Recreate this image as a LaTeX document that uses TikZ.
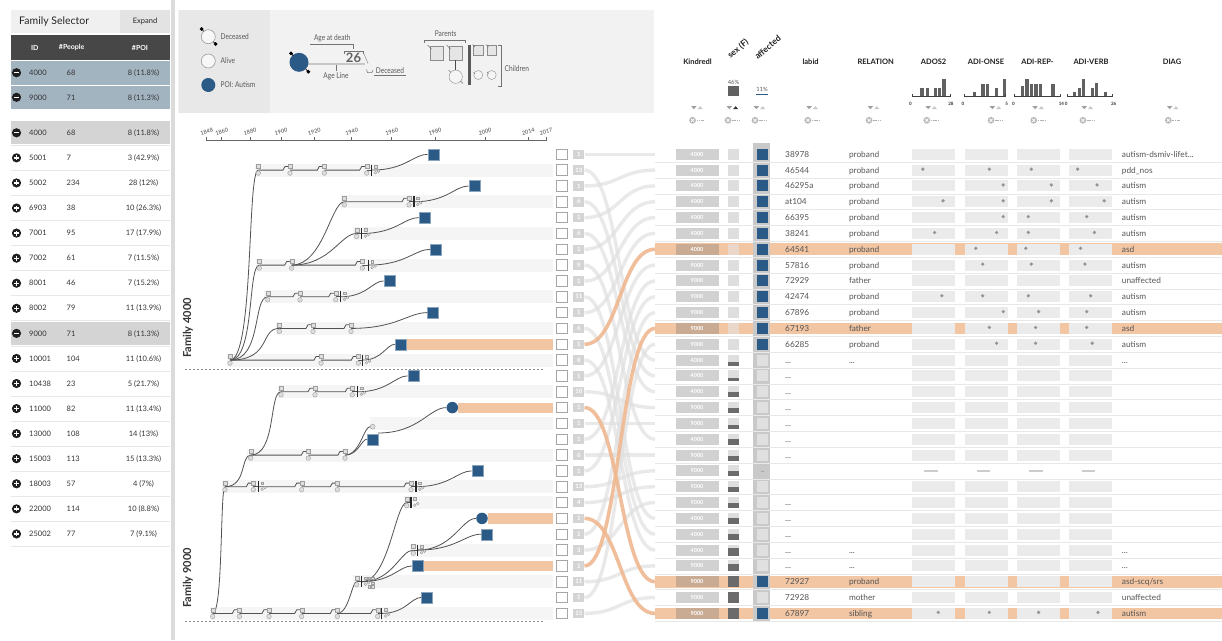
\documentclass[tikz,border=0pt]{standalone}
\usepackage{fontspec}
\usepackage{graphicx}
\setmainfont{Lato}
\usetikzlibrary{calc}
\definecolor{poiblue}{HTML}{2B5A87}
\definecolor{orng}{HTML}{F2C5A3}
\definecolor{oline}{HTML}{EFB890}
\definecolor{okin}{HTML}{C9AA93}
\definecolor{osex}{HTML}{EAD7C9}
\definecolor{selrow}{HTML}{A3B4C1}
\definecolor{txt}{HTML}{555555}
\newcommand\fsz[1]{\fontsize{#1}{#1}\selectfont}
\newcommand\dd{...}
\newcommand\cnd[1]{\scalebox{0.82}[1]{#1}}
\newcommand\lnk[2]{\draw[tl] (#1) -- ($(#2)+(-7,0)$) -- ($(#2)+(-5,-3.6)$) -- ($(#2)+(-1.5,-3.6)$);}
\newcommand\cv[2]{\draw[tl] (#1) .. controls ($(#1)!0.6!(#2|-#1)$) and ($(#1|-#2)!0.75!(#2)$) .. (#2);}
\newcommand\rcv[2]{\draw[tl] (#1) .. controls ($(#1)!0.85!(#2|-#1)$) and ($(#1|-#2)!0.6!(#2)$) .. (#2);}
\newcommand\tck[1]{\draw[tkk] ($(#1)+(0,-5.5)$) -- ($(#1)+(0,5.5)$);}
\newcommand\dmd[2]{\fill[black] (#1,#2-2) -- (#1+2,#2) -- (#1,#2+2) -- (#1-2,#2) -- cycle;}
\newcommand\hb[3]{\fill[black!62] (#1,96.5) rectangle (#2,#3);}
\newcommand\srt[3]{%
  \fill[black!38] (#2-5.8,106.2) -- (#2-0.5,106.2) -- (#2-3.15,109.2) -- cycle;
  \fill[#3] (#2+0.5,109.2) -- (#2+5.8,109.2) -- (#2+3.15,106.2) -- cycle;
  \node[circle, fill=black!27, minimum size=6.8pt, inner sep=0pt] (#1) at (#2-4.5,120.3) {};
  \draw[white, line width=0.7pt] (#2-6,118.8) -- (#2-3,121.8) (#2-6,121.8) -- (#2-3,118.8);
  \draw[black!30, line width=0.8pt, dash pattern=on 1.6pt off 0.7pt] (#2-0.5,120.3) -- (#2+6.5,120.3);}

\begin{document}
\begin{tikzpicture}[x=1pt,y=-1pt,
  tl/.style={draw=black!68, line width=0.8pt},
  tkk/.style={draw=black!85, line width=1.1pt},
  pm/.style={draw=black!38, fill=black!13, minimum size=4pt, inner sep=0pt, line width=0.4pt},
  pf/.style={circle, draw=black!38, fill=black!13, minimum size=4.6pt, inner sep=0pt, line width=0.4pt},
  sm/.style={pm, minimum size=2.8pt},
  sf/.style={pf, minimum size=2.8pt},
  poisq/.style={fill=poiblue, draw=poiblue!55!white, minimum size=11pt, inner sep=0pt, line width=0.4pt},
  poici/.style={circle, fill=poiblue, minimum size=11.5pt, inner sep=0pt},
  gconn/.style={draw=black!12, line width=3.4pt, opacity=0.7},
  oconn/.style={draw=oline, line width=3.6pt, opacity=0.9},
  lgt/.style={font=\fsz{8}, text=black!65, inner sep=0pt},
  hdr/.style={font=\bfseries\fsz{7.5}, text=black!88},
  cell/.style={font=\fsz{8.3}, text=txt, inner sep=0pt, anchor=base west}
]
\useasboundingbox (0,0) rectangle (1222,640);
\fill[white] (0,0) rectangle (1222,640);

%% ================= Family selector =================
\fill[black!6] (11,10) rectangle (120,33);
\fill[black!11] (120,10) rectangle (170,33);
\node[anchor=west, font=\fsz{10.5}, text=black!85, inner sep=0pt] (fstitle) at (19,21.5) {Family Selector};
\node[font=\fsz{7.5}, text=black!85] (fsexp) at (145,21.5) {Expand};
\fill[black!72] (11,35) rectangle (170,60);
\node[font=\bfseries\fsz{7}, text=white] (hid) at (34.7,47.5) {ID};
\node[font=\bfseries\fsz{7}, text=white] (hpeo) at (71.7,47.5) {\#People};
\node[font=\bfseries\fsz{7}, text=white] (hpoi) at (140,47.5) {\#POI};
\foreach \yy/\id/\np/\poi in {72.7/4000/68/{8 (11.8\%)}, 97.3/9000/71/{8 (11.3\%)}}{
  \fill[selrow] (11,\yy-12) rectangle (170,\yy+12);
  \fill[black!88] (16.5,\yy) circle (4.6);
  \draw[white, line width=1.3pt] (14,\yy) -- (19,\yy);
  \node[anchor=base west, font=\fsz{7.5}, text=black!80, inner sep=0pt] (top\id) at (29,\yy+2.7) {\id};
  \node[anchor=base west, font=\fsz{7.5}, text=black!80, inner sep=0pt] (topn\id) at (66.5,\yy+2.7) {\np};
  \node[anchor=base, font=\fsz{7.5}, text=black!80, inner sep=0pt] (topp\id) at (143.5,\yy+2.7) {\poi};
}
\draw[white, line width=0.8pt] (11,85) -- (170,85);
\foreach \k/\id/\np/\poi/\sel in {
 0/4000/68/{8 (11.8\%)}/1, 1/5001/7/{3 (42.9\%)}/0, 2/5002/234/{28 (12\%)}/0,
 3/6903/38/{10 (26.3\%)}/0, 4/7001/95/{17 (17.9\%)}/0, 5/7002/61/{7 (11.5\%)}/0,
 6/8001/46/{7 (15.2\%)}/0, 7/8002/79/{11 (13.9\%)}/0, 8/9000/71/{8 (11.3\%)}/1,
 9/10001/104/{11 (10.6\%)}/0, 10/10438/23/{5 (21.7\%)}/0, 11/11000/82/{11 (13.4\%)}/0,
 12/13000/108/{14 (13\%)}/0, 13/15003/113/{15 (13.3\%)}/0, 14/18003/57/{4 (7\%)}/0,
 15/22000/114/{10 (8.8\%)}/0, 16/25002/77/{7 (9.1\%)}/0}{
  \pgfmathsetmacro\yy{132.8+25.07*\k}
  \ifnum\sel=1 \fill[black!17] (11,\yy-11.5) rectangle (170,\yy+11.5); \fi
  \draw[black!9, line width=0.6pt] (11,\yy+12.5) -- (170,\yy+12.5);
  \fill[black!88] (16.5,\yy) circle (4.6);
  \draw[white, line width=1.3pt] (14,\yy) -- (19,\yy);
  \ifnum\sel=0 \draw[white, line width=1.3pt] (16.5,\yy-2.5) -- (16.5,\yy+2.5); \fi
  \node[anchor=base west, font=\fsz{7.5}, text=black!80, inner sep=0pt] (lid\k) at (29,\yy+2.7) {\id};
  \node[anchor=base west, font=\fsz{7.5}, text=black!80, inner sep=0pt] (lnp\k) at (66.5,\yy+2.7) {\np};
  \node[anchor=base, font=\fsz{7.5}, text=black!80, inner sep=0pt] (lpo\k) at (143.5,\yy+2.7) {\poi};
}
\fill[black!14] (171,0) rectangle (174.5,640);

%% ================= Legend =================
\fill[black!5] (178,10) rectangle (654,113);
\fill[black!9] (179,10) rectangle (270,113);
\node[circle, draw=black!40, fill=black!3, minimum size=14pt, inner sep=0pt, line width=0.6pt] (lgdec) at (208.3,36.7) {};
\draw[black, line width=0.6pt] (201.7,29) -- (203.6,31.3) (215.7,44) -- (213.3,41.8);
\dmd{201.7}{29} \dmd{215.7}{44}
\node[lgt, anchor=west] (lgdect) at (220.5,36.7) {\cnd{Deceased}};
\node[circle, draw=black!40, fill=black!3, minimum size=14pt, inner sep=0pt, line width=0.6pt] (lgalv) at (208.3,61) {};
\node[lgt, anchor=west] (lgalvt) at (220.5,61) {\cnd{Alive}};
\node[circle, fill=poiblue, minimum size=14pt, inner sep=0pt] (lgpoi) at (208.3,85) {};
\node[lgt, anchor=west] (lgpoit) at (220.5,85) {\cnd{POI: Autism}};
% age line example
\draw[black!22, line width=2pt] (300,64) -- (365,64);
\node[circle, fill=poiblue, minimum size=19pt, inner sep=0pt] (lgbig) at (299,62.3) {};
\draw[black, line width=0.6pt] (291,53.3) -- (293.5,56) (308.3,71.7) -- (305.5,68.8);
\dmd{291}{53.3} \dmd{308.3}{71.7}
\node[lgt] (lgage) at (332.3,38.5) {\cnd{Age at death}};
\draw[black!55, line width=0.5pt] (310,44.3) -- (353.3,44.3) -- (353.3,48.5);
\draw[black!55, line width=0.5pt] (344.3,54) -- (344.3,51.7) -- (363.3,51.7) -- (363.3,54);
\node[font=\bfseries\fsz{13}, text=black!62, inner sep=0pt] (lg26) at (353.5,57.5) {26};
\draw[black!40, line width=0.6pt] (363.8,53.5) -- (368,63.5);
\draw[black!55, line width=0.5pt] (336,65) -- (336,71);
\node[lgt] (lgal) at (336,76.5) {\cnd{Age Line}};
\draw[black!55, line width=0.5pt] (366.5,69.5) -- (367.5,72.5) -- (372,72.5) -- (373,70);
\node[lgt] (lgdc2) at (390,71) {\cnd{Deceased}};
\draw[black!55, line width=0.5pt] (374,75.7) -- (405.7,75.7);
% parents / children
\node[lgt] (lgpar) at (445.7,33.8) {\cnd{Parents}};
\draw[black!55, line width=0.5pt] (424.3,42.5) -- (424.3,40) -- (465,40) -- (465,42.5);
\node[draw=black!45, fill=black!10, minimum size=13.3pt, inner sep=0pt] (lgp1) at (436.7,53.3) {};
\node[draw=black!45, fill=black!10, minimum size=13.3pt, inner sep=0pt] (lgp2) at (455.7,53.3) {};
\draw[black!55, line width=0.5pt] (427.5,45) -- (431.5,49) (446.5,45) -- (450.5,49);
\draw[black!70, line width=1.3pt] (lgp2.south) -- ++(0,10);
\node[circle, draw=black!45, fill=black!4, minimum size=13.3pt, inner sep=0pt] (lgc) at (455.7,76.7) {};
\draw[black!55, line width=0.5pt] (448.5,70) -- (451,72.5) (460.5,81) -- (463,83.5);
\fill[black!65] (467.7,45) rectangle (471,85);
\node[draw=black!45, fill=black!10, minimum size=9.5pt, inner sep=0pt] (lgk1) at (478.3,50.3) {};
\node[draw=black!45, fill=black!10, minimum size=9.5pt, inner sep=0pt] (lgk2) at (491.7,50.3) {};
\node[circle, draw=black!45, fill=black!4, minimum size=9pt, inner sep=0pt] (lgk3) at (478.3,75) {};
\node[circle, draw=black!45, fill=black!4, minimum size=9pt, inner sep=0pt] (lgk4) at (491.7,75) {};
\draw[black!55, line width=0.5pt] (472.5,44.5) -- (475,47) (486,44.5) -- (488.5,47) (473.5,72) -- (475,74) (487,72) -- (488.5,74);
\draw[black!55, line width=0.5pt] (498.3,45) -- (501.7,45) -- (501.7,86.7) -- (498.3,86.7);
\node[lgt, anchor=west] (lgch) at (504.5,68.3) {\cnd{Children}};

%% ================= Timeline axis =================
\draw[black!60, line width=0.6pt] (206.7,140.7) -- (546,140.7);
\foreach \yr/\xx in {1848/206.7, 1860/221.7, 1880/250, 1900/281, 1920/314.3, 1940/351.7, 1960/391.7, 1980/435, 2000/485, 2014/528.3, 2017/546}{
  \draw[black!60, line width=0.6pt] (\xx,140.7) -- (\xx,137);
  \node[font=\fsz{5.5}, text=black!75, inner sep=0pt] (yr\yr) at (\xx,131.5) {\rotatebox{15}{\yr}};
}

%% ================= Tree bands =================
\foreach \yy/\xs in {170.1/255, 201.8/341, 233.5/353, 265.1/256, 296.8/264, 328.4/276, 360.1/227,
  391.8/278, 423.4/370, 455.1/247, 486.7/222, 502.6/404, 550.1/410, 581.7/353, 613.4/210}{
  \fill[black!4] (\xs,\yy-6.5) rectangle (553,\yy+6.5);
}
\foreach \yy/\xs in {344.3/406, 407.6/458, 518.4/487.5, 565.9/423}{
  \fill[orng] (\xs,\yy-5) rectangle (553,\yy+5.5);
}
\draw[black!45, line width=0.7pt, dash pattern=on 2pt off 2pt] (185,369) -- (545,369);
\draw[black!45, line width=0.7pt, dash pattern=on 2pt off 2pt] (185,621) -- (545,621);
\node[font=\bfseries\fsz{11}, text=black!80] (fam4000) at (188,328) {\rotatebox{90}{Family 4000}};
\node[font=\bfseries\fsz{11}, text=black!80] (fam9000) at (188,578) {\rotatebox{90}{Family 9000}};

%% persons of interest
\node[poisq] (s0) at (433.3,154.3) {};
\node[poisq] (s2) at (474.3,186.0) {};
\node[poisq] (s4) at (424.3,217.6) {};
\node[poisq] (s6) at (436,249.3) {};
\node[poisq] (s8) at (389.3,280.9) {};
\node[poisq] (s10) at (433,312.6) {};
\node[poisq] (s12) at (400.5,344.3) {};
\node[poisq] (s14) at (413.3,375.9) {};
\node[poici] (s16) at (452.3,407.6) {};
\node[poisq] (s18) at (372.7,439.2) {};
\node[poisq] (s20) at (477.3,470.9) {};
\node[poici] (s23) at (482,518.4) {};
\node[poisq] (s24) at (486.7,534.2) {};
\node[poisq] (s26) at (417.7,565.9) {};
\node[poisq] (s28) at (426.7,597.5) {};

%% couple / tick coordinates
\coordinate (a0) at (230,360.1); \coordinate (a1) at (321,360.1); \coordinate (a2) at (358.3,360.1); \coordinate (ta) at (362.7,360.1);
\coordinate (b0) at (258.3,170.1); \coordinate (b1) at (290,170.1); \coordinate (b2) at (324.3,170.1); \coordinate (b3) at (366.7,170.1); \coordinate (tb) at (371.7,170.1);
\coordinate (c0) at (259.3,265.1); \coordinate (c1) at (291.7,265.1); \coordinate (c2) at (362.3,265.1); \coordinate (tc) at (368.3,265.1);
\coordinate (d0) at (267.7,296.8); \coordinate (d1) at (300,296.8); \coordinate (d2) at (335.7,296.8); \coordinate (td) at (340.7,296.8);
\coordinate (e0) at (279.3,328.4); \coordinate (e1) at (313,328.4); \coordinate (e2) at (351,328.4);
\coordinate (f0) at (344.3,201.8); \coordinate (f1) at (409,201.8); \coordinate (tf) at (414,201.8);
\coordinate (g0) at (356.7,233.5); \coordinate (tg) at (361.7,233.5);
\coordinate (h0) at (212.7,613.4); \coordinate (h1) at (239.3,613.4); \coordinate (h2) at (269,613.4); \coordinate (h3) at (301.7,613.4); \coordinate (h4) at (337.3,613.4); \coordinate (h5) at (377.7,613.4); \coordinate (th) at (381.7,613.4);
\coordinate (i0) at (356.7,581.7); \coordinate (ti) at (361.7,581.7);
\coordinate (j0) at (406.7,502.6); \coordinate (tj) at (411,502.6);
\coordinate (k0) at (413.3,550.1); \coordinate (tk) at (417.7,550.1);
\coordinate (l0) at (225,486.7); \coordinate (l1) at (253.3,486.7); \coordinate (tl1) at (258.3,486.7); \coordinate (l2) at (301.7,486.7); \coordinate (l3) at (337.3,486.7); \coordinate (l4) at (411,486.7); \coordinate (tl4) at (416,486.7);
\coordinate (m0) at (250.7,455.1); \coordinate (m1) at (308.3,455.1); \coordinate (m2) at (345,455.1);
\coordinate (n0) at (281,391.8); \coordinate (n1) at (315,391.8); \coordinate (n2) at (352.3,391.8); \coordinate (tn) at (357.7,391.8);
\coordinate (p17) at (378,433);
\node[pf, minimum size=5pt] (g17) at (372.7,426.7) {};

%% lines, family 4000
\lnk{a0}{a1} \lnk{a1}{a2} \draw[tl] (a2) -- (ta); \cv{ta}{s12.west}
\lnk{b0}{b1} \lnk{b1}{b2} \lnk{b2}{b3} \draw[tl] (b3) -- (tb); \cv{tb}{s0.west}
\lnk{c0}{c1} \lnk{c1}{c2} \draw[tl] (c2) -- (tc); \cv{tc}{s6.west}
\lnk{d0}{d1} \lnk{d1}{d2} \draw[tl] (d2) -- (td); \cv{td}{s8.west}
\lnk{e0}{e1} \lnk{e1}{e2} \cv{e2}{s10.west}
\lnk{f0}{f1} \draw[tl] (f1) -- (tf); \cv{tf}{s2.west}
\draw[tl] (g0) -- (tg); \cv{tg}{s4.west}
\rcv{a0}{b0} \rcv{a0}{c0} \rcv{a0}{d0} \rcv{a0}{e0}
\cv{c1}{f0} \cv{c1}{g0}
%% lines, family 9000
\lnk{h0}{h1} \lnk{h1}{h2} \lnk{h2}{h3} \lnk{h3}{h4} \lnk{h4}{h5} \draw[tl] (h5) -- (th); \cv{th}{s28.west}
\cv{h4}{i0}
\draw[tl] (i0) -- (ti); \cv{ti}{j0} \cv{ti}{k0} \cv{ti}{s26.west}
\draw[tl] (k0) -- (tk); \cv{tk}{s23.west} \cv{tk}{s24.west}
\draw[tl] (j0) -- (tj);
\rcv{h0}{l0}
\lnk{l0}{l1} \draw[tl] (l1) -- (tl1); \lnk{tl1}{l2} \lnk{l2}{l3} \lnk{l3}{l4} \draw[tl] (l4) -- (tl4); \cv{tl4}{s20.west}
\rcv{l0}{m0}
\lnk{m0}{m1} \lnk{m1}{m2} \cv{m2}{g17.west} \cv{m2}{s18.west}
\cv{p17}{s16.west}
\rcv{m0}{n0}
\lnk{n0}{n1} \lnk{n1}{n2} \draw[tl] (n2) -- (tn); \cv{tn}{s14.west}

%% ticks
\foreach \t in {ta,tb,tc,td,tf,tg,th,ti,tj,tk,tl1,tl4,tn}{ \tck{\t} }
%% couple glyphs
\foreach \n in {a0,a1,a2,b0,b1,b2,b3,c0,c1,c2,d0,d1,d2,e0,e1,e2,f0,f1,g0,h0,h1,h2,h3,h4,h5,i0,j0,k0,l0,l1,l2,l3,l4,m0,m1,m2,n0,n1,n2}{
  \node[pm] (\n-m) at ($(\n)+(0,-3.6)$) {};
  \node[pf] (\n-f) at ($(\n)+(0,3)$) {};
}
\foreach \t in {ta,tb,tc,td,tf,tg,th,ti,tj,tk,tl1,tl4,tn}{
  \node[sm] (\t-s) at ($(\t)+(3.8,-3.6)$) {};
  \node[sf] (\t-c) at ($(\t)+(3.8,2.6)$) {};
  \node[sf] (\t-d) at ($(\t)+(6.8,1)$) {};
}
\foreach \dx/\dy [count=\q] in {7.5/-3.6, 11/-3.6, 7.5/4.6, 11/1.5, 11/4.6}{
  \node[sm] (ti-x\q) at ($(ti)+(\dx,\dy)$) {};
}

%% ================= row checkboxes and counts =================
\foreach \i/\c in {0/1,1/13,2/1,3/6,4/1,5/6,6/1,7/9,8/1,9/11,10/1,11/6,12/1,13/8,14/1,15/10,16/1,17/1,18/1,19/6,20/1,21/13,22/4,23/1,24/1,25/3,26/1,27/11,28/1,29/15}{
  \pgfmathsetmacro\Y{154.3+15.83*\i}
  \node[draw=black!35, line width=0.8pt, fill=white, minimum size=10.5pt, inner sep=0pt] (chk\i) at (561.7,\Y) {};
  \node[fill=black!17, minimum width=11pt, minimum height=9.5pt, inner sep=0pt, text=white, font=\bfseries\fsz{6}] (cb\i) at (578.8,\Y) {\c};
  \coordinate (tr\i) at (655,\Y);
}
\foreach \a/\b in {0/0,1/13,2/1,3/14,4/2,5/15,6/3,7/18,8/4,9/23,10/5,11/24,13/25,14/7,15/16,17/17,18/8,19/19,20/9,21/20,22/21,24/10,25/22,27/26,28/12,29/28}{
  \draw[gconn] (cb\a.east) .. controls +(35,0) and +(-35,0) .. (tr\b);
}
\foreach \a/\b in {12/6,16/27,23/29,26/11}{
  \draw[oconn] (cb\a.east) .. controls +(35,0) and +(-35,0) .. (tr\b);
}

%% ================= Table header =================
\node[hdr] (hkin) at (697.5,61.7) {Kindredl};
\node[font=\bfseries\fsz{8.5}, text=black!88, anchor=south west, inner sep=0pt] (hsex) at (726,60) {\rotatebox{40}{sex (F)}};
\node[font=\bfseries\fsz{8.5}, text=black!88, anchor=south west, inner sep=0pt] (haff) at (753.5,60) {\rotatebox{40}{affected}};
\node[hdr] (hlab) at (810.6,61.7) {labid};
\node[hdr] (hrel) at (875.7,61.7) {RELATION};
\node[hdr] (hados) at (933.6,61.7) {ADOS2};
\node[hdr] (honse) at (986,61.7) {ADI-ONSE};
\node[hdr] (hrep) at (1037.5,61.7) {ADI-REP-};
\node[hdr] (hverb) at (1091,61.7) {ADI-VERB};
\node[hdr] (hdiag) at (1172,61.7) {DIAG};
\node[font=\fsz{5.8}, text=black!65, inner sep=0pt] (p46) at (733.5,82.3) {46\%};
\fill[black!62] (727.8,86) rectangle (739,96);
\node[font=\fsz{5.8}, text=black!65, inner sep=0pt] (p11) at (762,89) {11\%};
\draw[poiblue, line width=1.6pt] (756,94.3) -- (768.3,94.3);
% histograms
\hb{920.2}{923.6}{87.6} \hb{925.7}{929.1}{87.6} \hb{934}{937.4}{87.6} \hb{938.1}{941.2}{87.6} \hb{942}{945.5}{78.8}
\hb{972.7}{975.9}{92.4} \hb{981.2}{984.6}{83.5} \hb{985.8}{989.3}{83.5} \hb{994.6}{997.8}{87.6} \hb{1002.5}{1005.7}{78.8}
\hb{1021}{1024.3}{85.6} \hb{1025.4}{1028.7}{78.8} \hb{1030}{1033.2}{84.2} \hb{1034.4}{1037.6}{84.2} \hb{1038.8}{1042.2}{84.2} \hb{1051.3}{1054.6}{84.2}
\hb{1073}{1076.2}{91.7} \hb{1077.5}{1080.7}{87.6} \hb{1082}{1085.3}{78.8} \hb{1090.5}{1093.7}{87.6} \hb{1095}{1098.2}{82.9} \hb{1103.7}{1106.9}{91.7}
\foreach \xa/\xb/\la/\lb/\nm in {912/949.9/0/28/ados, 964.5/1005.7/0/5/onse, 1014.8/1060.4/0/14/rep, 1067.7/1112.6/0/26/verb}{
  \draw[black!75, line width=0.7pt] (\xa,93.8) -- (\xa,96.5) -- (\xb,96.5) -- (\xb,93.8);
  \node[font=\bfseries\fsz{4.5}, text=black!80, inner sep=0pt] (ha\nm) at (\xa-1.5,104.2) {\la};
  \node[font=\bfseries\fsz{4.5}, text=black!80, inner sep=0pt] (hb\nm) at (\xb+1,104.2) {\lb};
}
\srt{xkin}{697}{black!22}
\srt{xsex}{732.5}{black!80}
\srt{xaff}{759.5}{black!22}
\srt{xlab}{812.3}{black!22}
\srt{xrel}{873.6}{black!22}
\srt{xados}{931.3}{black!22}
\srt{xonse}{995.5}{black!22}
\srt{xrep}{1038.2}{black!22}
\srt{xverb}{1087.4}{black!22}
\srt{xdiag}{1172.8}{black!22}

%% ================= Table rows =================
\foreach \i in {6,11,27,29}{
  \pgfmathsetmacro\Y{154.3+15.83*\i}
  \fill[orng] (655,\Y-5.8) rectangle (1222,\Y+5.8);
}
\fill[black!21] (753.2,143) rectangle (770.4,621.5);
\foreach \i/\kin/\lab/\rel/\dg/\aff/\sx/\o in {
 0/4000/38978/proband/{autism-dsmiv-lifet\dd}/1/0/0,
 1/4000/46544/proband/{pdd\_nos}/1/0/0,
 2/4000/{46295a}/proband/autism/1/0/0,
 3/4000/at104/proband/autism/1/0/0,
 4/4000/66395/proband/autism/1/0/0,
 5/4000/38241/proband/autism/1/0/0,
 6/4000/64541/proband/asd/1/0/1,
 7/9000/57816/proband/autism/1/0/0,
 8/9000/72929/father/unaffected/1/0/0,
 9/9000/42474/proband/autism/1/0/0,
 10/9000/67896/proband/autism/1/0/0,
 11/9000/67193/father/asd/1/0/1,
 12/9000/66285/proband/autism/1/0/0,
 13/4000/{\dd}/{\dd}/{\dd}/0/0.35/0,
 14/4000/{\dd}/{}/{}/0/0.3/0,
 15/4000/{\dd}/{}/{}/0/0.45/0,
 16/9000/{\dd}/{}/{}/0/0.45/0,
 17/9000/{\dd}/{}/{}/0/0.4/0,
 18/4000/{\dd}/{}/{}/0/0.5/0,
 19/9000/{\dd}/{}/{}/0/0.45/0,
 20/9000/{}/{}/{}/2/0.5/0,
 21/9000/{}/{}/{}/0/0.5/0,
 22/9000/{\dd}/{}/{}/0/0.5/0,
 23/4000/{\dd}/{}/{}/0/0.55/0,
 24/4000/{\dd}/{}/{}/0/0.55/0,
 25/4000/{\dd}/{\dd}/{\dd}/0/0.65/0,
 26/9000/{\dd}/{\dd}/{\dd}/0/0.7/0,
 27/9000/72927/proband/{asd-scq/srs}/1/1/1,
 28/9000/72928/mother/unaffected/0/1/0,
 29/9000/67897/sibling/autism/1/1/1}{
  \pgfmathsetmacro\Y{154.3+15.83*\i}
  \draw[black!9, line width=0.6pt] (655,\Y+8) -- (1222,\Y+8);
  \ifnum\o=1
    \node[fill=okin, minimum width=43pt, minimum height=11pt, inner sep=0pt, text=white, font=\bfseries\fsz{5.5}] (kin\i) at (697,\Y) {\kin};
    \fill[osex] (728.4,\Y-5.5) rectangle (738.7,\Y+5.5);
  \else
    \node[fill=black!18, minimum width=43pt, minimum height=11pt, inner sep=0pt, text=white, font=\bfseries\fsz{5.5}] (kin\i) at (697,\Y) {\kin};
    \fill[black!13] (728.4,\Y-5.5) rectangle (738.7,\Y+5.5);
  \fi
  \ifdim\sx pt>0pt \fill[black!58] (728.4,\Y+5.5-11*\sx) rectangle (738.7,\Y+5.5); \fi
  \ifnum\aff=1 \fill[poiblue] (756.5,\Y-5.5) rectangle (767.5,\Y+5.5); \fi
  \ifnum\aff=0 \fill[black!12] (756.5,\Y-5.5) rectangle (767.5,\Y+5.5); \fi
  \ifnum\aff=2 \draw[black!35, line width=0.8pt] (760.5,\Y) -- (763.5,\Y); \fi
  \node[cell] (lab\i) at (785,\Y+3) {\lab};
  \node[cell] (rel\i) at (848.8,\Y+3) {\rel};
  \node[cell] (dg\i) at (1121.7,\Y+3) {\dg};
  \ifnum\aff=2
    \foreach \xa/\xb in {924.4/937.5, 977/990, 1029.4/1042.6, 1081.6/1095.1}{ \draw[black!20, line width=1.2pt] (\xa,\Y) -- (\xb,\Y); }
  \else
    \foreach \xa/\xb in {912/955, 964.5/1007.5, 1016.7/1059.7, 1068.8/1112.2}{ \fill[black!8] (\xa,\Y-5.5) rectangle (\xb,\Y+5.5); }
  \fi
}
\foreach \r/\xx [count=\q] in {1/922.9, 1/989.3, 1/1031.3, 1/1077.6, 2/1003.2, 2/1051.3, 2/1097,
 3/943, 3/1003.2, 3/1051.3, 3/1104.2, 4/1003.2, 4/1028.3, 4/1086.7,
 5/934.6, 5/996.6, 5/1028.3, 5/1094.4, 6/975.8, 6/1025.8, 6/1080.5,
 7/982.7, 7/1031.3, 7/1084.9, 9/941.9, 9/982.7, 9/1028.3, 9/1090.7,
 10/1003.2, 10/1038.6, 10/1086.7, 11/989.3, 11/1035.6, 11/1086.7,
 12/996.6, 12/1035.6, 12/1092.2, 29/938.2, 29/989.3, 29/1038.6, 29/1098}{
  \pgfmathsetmacro\Y{154.3+15.83*\r}
  \node[circle, fill=black!42, minimum size=3.6pt, inner sep=0pt] (dot\q) at (\xx,\Y-1) {};
}
\end{tikzpicture}
\end{document}
